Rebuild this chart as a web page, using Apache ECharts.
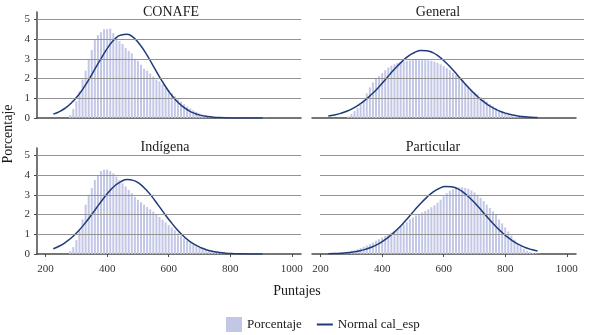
<!DOCTYPE html>
<html>
<head>
<meta charset="utf-8">
<script src="https://cdn.jsdelivr.net/npm/echarts@6/dist/echarts.min.js"></script>
<style>
	html, body { margin: 0; padding: 0; background: #fff; }
	#main { width: 589px; height: 335px; }
</style>
</head>
<body>
<div id="main"></div>
<script>
// bins (centro de cada barra, ancho 10 puntos)
var scores = [230, 240, 250, 260, 270, 280, 290, 300, 310, 320,
	330, 340, 350, 360, 370, 380, 390, 400, 410, 420,
	430, 440, 450, 460, 470, 480, 490, 500, 510, 520,
	530, 540, 550, 560, 570, 580, 590, 600, 610, 620,
	630, 640, 650, 660, 670, 680, 690, 700, 710, 720,
	730, 740, 750, 760, 770, 780, 790, 800, 810, 820,
	830, 840, 850, 860, 870, 880, 890, 900, 910, 920];

var conafe = [0, 0, 0, 0, 0, 0.15, 0.45, 0.85, 1.35, 1.95,
	2.4, 2.95, 3.45, 3.95, 4.2, 4.35, 4.5, 4.5, 4.53, 4.3,
	4.1, 3.9, 3.75, 3.55, 3.4, 3.28, 3.0, 2.9, 2.7, 2.5,
	2.4, 2.25, 2.1, 1.95, 1.85, 1.7, 1.55, 1.4, 1.25, 1.1,
	0.95, 0.82, 0.7, 0.58, 0.48, 0.39, 0.31, 0.24, 0.18, 0.14,
	0.11, 0.08, 0.06, 0.05, 0.04, 0.03, 0.03, 0.02, 0.02, 0.02,
	0.01, 0.01, 0.01, 0.01, 0.01, 0.01, 0.01, 0.01, 0.01, 0.01];

var general = [0, 0, 0, 0, 0, 0, 0.08, 0.2, 0.35, 0.5,
	0.68, 0.9, 1.25, 1.55, 1.8, 1.97, 2.12, 2.27, 2.42, 2.56,
	2.65, 2.72, 2.78, 2.83, 2.87, 2.9, 2.92, 2.93, 2.94, 2.93,
	2.93, 2.93, 2.92, 2.9, 2.86, 2.8, 2.72, 2.63, 2.53, 2.42,
	2.3, 2.17, 2.04, 1.9, 1.75, 1.6, 1.44, 1.32, 1.2, 1.07,
	0.95, 0.83, 0.7, 0.6, 0.5, 0.4, 0.3, 0.22, 0.15, 0.1,
	0.07, 0.04, 0.03, 0.02, 0.01, 0, 0, 0, 0, 0];

var indigena = [0, 0, 0, 0, 0, 0.15, 0.35, 0.7, 1.2, 1.75,
	2.5, 3.0, 3.35, 3.75, 4.0, 4.2, 4.27, 4.28, 4.2, 4.08,
	3.92, 3.75, 3.58, 3.42, 3.25, 3.08, 2.9, 2.75, 2.62, 2.5,
	2.38, 2.27, 2.15, 2.03, 1.88, 1.74, 1.6, 1.47, 1.34, 1.2,
	1.05, 0.92, 0.8, 0.68, 0.57, 0.47, 0.39, 0.31, 0.25, 0.2,
	0.16, 0.12, 0.09, 0.07, 0.05, 0.04, 0.03, 0.03, 0.02, 0.02,
	0.02, 0.01, 0.01, 0.01, 0.01, 0.01, 0.01, 0.01, 0.01, 0];

var particular = [0.01, 0.02, 0.04, 0.06, 0.08, 0.1, 0.13, 0.16, 0.2, 0.24,
	0.3, 0.36, 0.43, 0.5, 0.58, 0.67, 0.75, 0.83, 0.92, 1.0,
	1.08, 1.17, 1.27, 1.38, 1.5, 1.62, 1.75, 1.85, 1.95, 2.03,
	2.1, 2.18, 2.27, 2.37, 2.47, 2.6, 2.75, 2.92, 3.08, 3.2,
	3.28, 3.33, 3.37, 3.38, 3.35, 3.3, 3.22, 3.12, 3.0, 2.85,
	2.68, 2.5, 2.33, 2.16, 1.98, 1.75, 1.55, 1.35, 1.14, 0.93,
	0.72, 0.54, 0.38, 0.26, 0.16, 0.1, 0.06, 0.04, 0.02, 0];

// curva normal (puntos leídos cada 20)
var curveScores = [225, 245, 265, 285, 305, 325, 345, 365, 385, 405,
	425, 445, 465, 485, 505, 525, 545, 565, 585, 605,
	625, 645, 665, 685, 705, 725, 745, 765, 785, 805,
	825, 845, 865, 885, 905];

var conafeNormal = [0.197, 0.326, 0.516, 0.782, 1.13, 1.56, 2.06, 2.61, 3.14, 3.63,
	4.00, 4.21, 4.24, 4.08, 3.75, 3.30, 2.77, 2.22, 1.71, 1.25,
	0.876, 0.588, 0.376, 0.230, 0.134, 0.075, 0.040, 0.021, 0.010, 0.005,
	0.002, 0.001, 0, 0, 0];

var generalNormal = [0.099, 0.154, 0.233, 0.343, 0.489, 0.677, 0.910, 1.19, 1.50, 1.85,
	2.21, 2.56, 2.87, 3.14, 3.32, 3.42, 3.41, 3.31, 3.11, 2.84,
	2.52, 2.17, 1.81, 1.47, 1.16, 0.884, 0.655, 0.472, 0.330, 0.224,
	0.147, 0.094, 0.058, 0.035, 0.021];

var indigenaNormal = [0.267, 0.404, 0.592, 0.835, 1.14, 1.50, 1.90, 2.33, 2.75, 3.14,
	3.46, 3.67, 3.77, 3.73, 3.56, 3.28, 2.92, 2.50, 2.07, 1.66,
	1.28, 0.949, 0.682, 0.473, 0.316, 0.204, 0.127, 0.076, 0.044, 0.025,
	0.013, 0.007, 0.003, 0.002, 0.001];

var particularNormal = [0.012, 0.022, 0.037, 0.061, 0.099, 0.154, 0.233, 0.343, 0.489, 0.677,
	0.910, 1.19, 1.50, 1.85, 2.21, 2.56, 2.87, 3.14, 3.32, 3.42,
	3.41, 3.31, 3.11, 2.84, 2.52, 2.17, 1.81, 1.47, 1.16, 0.884,
	0.655, 0.472, 0.330, 0.224, 0.147];

var xTicks = [200, 400, 600, 800, 1000];
var yTicks = [0, 1, 2, 3, 4, 5];
var gridValues = [1, 2, 3, 4, 5];

var serif = '"Liberation Serif", "DejaVu Serif", serif';
var barColor = '#c3c7e6';
var lineColor = '#1e3b7a';
var axisColor = '#4a4a4a';
var gridColor = '#939393';

function pairs(xs, ys) {
	var out = [];
	for (var i = 0; i < xs.length; i++) {
		out.push([xs[i], ys[i]]);
	}
	return out;
}

var panels = [
	{ title: 'CONAFE', bars: conafe, normal: conafeNormal, left: 37, top: 12, tx: 171, ty: 12, leftCol: true, bottomRow: false },
	{ title: 'General', bars: general, normal: generalNormal, left: 312, top: 12, tx: 438, ty: 12, leftCol: false, bottomRow: false },
	{ title: 'Indígena', bars: indigena, normal: indigenaNormal, left: 37, top: 148, tx: 165, ty: 147, leftCol: true, bottomRow: true },
	{ title: 'Particular', bars: particular, normal: particularNormal, left: 312, top: 148, tx: 433, ty: 147, leftCol: false, bottomRow: true }
];

var grids = [], xAxes = [], yAxes = [], series = [], graphics = [];

function gridLineSeries(idx) {
	return {
		type: 'line', xAxisIndex: idx, yAxisIndex: idx, data: [], silent: true, z: 0,
		markLine: {
			silent: true, symbol: ['none', 'none'], animation: false,
			label: { show: false },
			lineStyle: { color: gridColor, width: 1, type: 'solid' },
			data: gridValues.map(function(v) { return { yAxis: v }; })
		}
	};
}

panels.forEach(function(p, i) {
	grids.push({ left: p.left, top: p.top, width: 264, height: 106 });
	xAxes.push({
		type: 'value', gridIndex: i, min: 172, max: 1030,
		splitLine: { show: false },
		axisLine: { show: true, onZero: false, lineStyle: { color: axisColor, width: 1.5 } },
		axisTick: { show: p.bottomRow, length: 3, customValues: xTicks, lineStyle: { color: axisColor } },
		axisLabel: {
			show: p.bottomRow, customValues: xTicks, margin: 10, fontSize: 11, color: '#333', fontFamily: serif,
			formatter: function(v) { return String(v); }
		}
	});
	yAxes.push({
		type: 'value', gridIndex: i, min: 0, max: 5.37,
		splitLine: { show: false },
		axisLine: { show: p.leftCol, lineStyle: { color: axisColor, width: 1.5 } },
		axisTick: { show: p.leftCol, length: 3, customValues: yTicks, lineStyle: { color: axisColor } },
		axisLabel: { show: p.leftCol, customValues: yTicks, margin: 7, fontSize: 11, color: '#333', fontFamily: serif }
	});
	if (p.leftCol) {
		series.push(gridLineSeries(i));
	}
	series.push({
		name: 'Porcentaje', type: 'bar', xAxisIndex: i, yAxisIndex: i,
		barWidth: 2, itemStyle: { color: barColor }, z: 2,
		data: pairs(scores, p.bars)
	});
	series.push({
		name: 'Normal cal_esp', type: 'line', xAxisIndex: i, yAxisIndex: i,
		smooth: true, symbol: 'none', z: 3,
		lineStyle: { color: lineColor, width: 1.5 },
		itemStyle: { color: lineColor },
		data: pairs(curveScores, p.normal)
	});
	graphics.push({
		type: 'text', x: p.tx, y: p.ty,
		style: { text: p.title, fontSize: 14, fontFamily: serif, fill: '#1a1a1a', align: 'center', verticalAlign: 'middle' }
	});
});

// las líneas de rejilla del lado derecho están corridas unos px
[12, 148].forEach(function(top) {
	var idx = grids.length;
	grids.push({ left: 320, top: top, width: 264, height: 106 });
	xAxes.push({ type: 'value', gridIndex: idx, min: 172, max: 1030, show: false });
	yAxes.push({ type: 'value', gridIndex: idx, min: 0, max: 5.37, show: false });
	series.push(gridLineSeries(idx));
});

graphics.push({
	type: 'text', x: 8, y: 134, rotation: Math.PI / 2,
	style: { text: 'Porcentaje', fontSize: 14, fontFamily: serif, fill: '#1a1a1a', align: 'center', verticalAlign: 'middle' }
});
graphics.push({
	type: 'text', x: 297, y: 291,
	style: { text: 'Puntajes', fontSize: 14, fontFamily: serif, fill: '#1a1a1a', align: 'center', verticalAlign: 'middle' }
});

var myChart = echarts.init(document.getElementById('main'));
myChart.setOption({
	backgroundColor: '#fff',
	animation: false,
	grid: grids,
	xAxis: xAxes,
	yAxis: yAxes,
	legend: {
		left: 221, top: 312, itemWidth: 16, itemHeight: 15, itemGap: 15,
		selectedMode: false,
		textStyle: { fontFamily: serif, fontSize: 13, color: '#1a1a1a' },
		data: [
			{ name: 'Porcentaje', icon: 'rect' },
			{ name: 'Normal cal_esp', icon: 'path://M0,0 L16,0 L16,2 L0,2 Z' }
		]
	},
	graphic: graphics,
	series: series
});
</script>
</body>
</html>
